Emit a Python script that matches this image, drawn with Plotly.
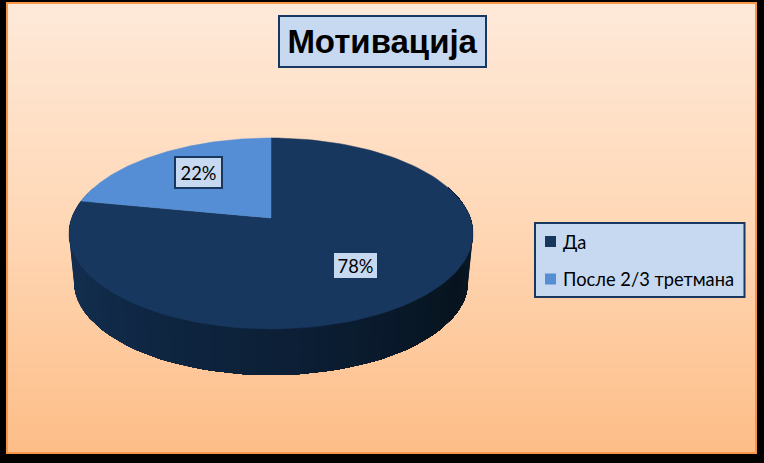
import math
import plotly.graph_objects as go

# ---- data ----
categories = ["Да", "После 2/3 третмана"]
values = [78, 22]
title_text = "Мотивација"

# ---- style ----
W, H = 764, 463
slice_colors = ["#17375E", "#558ED5"]
box_fill = "#C6D9F1"
box_line = "#17375E"
CX, CY = 271, 218          # projected centre of the disc
A, B, P = 199.3, 93.0, 0.1623   # projected radii and perspective
DEPTH, SHRINK = 48.8, 0.975


def project(theta, r=1.0, scale=1.0, drop=0.0):
    d = 1 + P * r * math.cos(theta)
    return (CX + scale * A * r * math.sin(theta) / d,
            CY + drop + scale * B * r * -math.cos(theta) / d)


def lerp_hex(stops, t):
    for (t0, c0), (t1, c1) in zip(stops, stops[1:]):
        if t <= t1:
            f = (t - t0) / (t1 - t0)
            a = [int(c0[i:i + 2], 16) for i in (1, 3, 5)]
            b = [int(c1[i:i + 2], 16) for i in (1, 3, 5)]
            return "#%02x%02x%02x" % tuple(round(u + (v - u) * f) for u, v in zip(a, b))
    return stops[-1][1]


fig = go.Figure()

# side wall of the disc: painted left to right, each layer covering the rest, so no seams show
side_stops = [(0, "#16345A"), (0.25, "#112B4A"), (0.55, "#0B1D33"), (0.75, "#07141F"), (1, "#0B1B2C")]
N = 60
lo, hi = math.radians(70), math.radians(290)
for i in range(N):
    t1 = hi - (hi - lo) * i / N
    arc = [t1 - (t1 - lo) * k / (N - i) for k in range(N - i + 1)]
    pts = [project(t) for t in arc] + [project(t, scale=SHRINK, drop=DEPTH) for t in reversed(arc)]
    col = lerp_hex(side_stops, i / N)
    fig.add_trace(go.Scatter(x=[p[0] for p in pts], y=[p[1] for p in pts], mode="lines", fill="toself",
                             fillcolor=col, line=dict(width=0), showlegend=False, hoverinfo="skip"))

# top face slices, clockwise from 12 o'clock
total = sum(values)
start = 0.0
mids = []
for name, v, col in zip(categories, values, slice_colors):
    sweep = 2 * math.pi * v / total
    thetas = [start + sweep * k / 120 for k in range(121)]
    pts = [project(0, 0)] + [project(t) for t in thetas] + [project(0, 0)]
    fig.add_trace(go.Scatter(x=[p[0] for p in pts], y=[p[1] for p in pts], mode="lines", fill="toself",
                             fillcolor=col, line=dict(color=col, width=0.5), showlegend=False,
                             name=name, hoverinfo="name"))
    mids.append(start + sweep / 2)
    start += sweep

# percentage labels
label_shift = [(0, 0), (0, 5)]
label_size = [(47, 29), (49, 33)]
for v, m, sh, sz in zip(values, mids, label_shift, label_size):
    x, y = project(m, r=0.615)
    fig.add_annotation(x=x, y=y, xref="x", yref="y", text=f"{round(100 * v / total)}%", showarrow=False,
                       xshift=sh[0], yshift=sh[1], width=sz[0] - 4, height=sz[1] - 4,
                       font=dict(family="Lato", size=18.3, color="#000000"),
                       bgcolor=box_fill, bordercolor=box_line, borderwidth=2, borderpad=0)

# title box
fig.add_annotation(x=382, y=41.5, xref="x", yref="y", text=f"<b>{title_text}</b>", showarrow=False,
                   width=205, height=49, font=dict(family="Liberation Sans", size=33, color="#000000"),
                   bgcolor=box_fill, bordercolor=box_line, borderwidth=2, borderpad=0)

# legend box, swatches and texts
legend_rows = [241.5, 279]
fig.add_trace(go.Scatter(x=[550.5] * len(categories), y=legend_rows, mode="markers", showlegend=False, hoverinfo="skip",
                         marker=dict(symbol="square", size=11, color=slice_colors, line=dict(width=0))))
for name, y in zip(categories, legend_rows):
    fig.add_annotation(x=561, y=y, xref="x", yref="y", text=name, showarrow=False, xanchor="left", yanchor="middle",
                       font=dict(family="Lato", size=18.3, color="#000000"))

# panel background gradient
shapes = []
ROWS = 150
top, bottom = 3, 453
grad = [(0, "#FEE9D9"), (0.5, "#FFD7B5"), (1, "#FDBD87")]
for i in range(ROWS):
    y0 = top + (bottom - top) * i / ROWS
    y1 = top + (bottom - top) * (i + 1) / ROWS + 0.5
    shapes.append(dict(type="rect", xref="x", yref="y", x0=7, x1=756, y0=y0, y1=min(y1, bottom), layer="below",
                       fillcolor=lerp_hex(grad, i / ROWS), line=dict(width=0)))
shapes.append(dict(type="rect", xref="x", yref="y", x0=7, x1=756, y0=3, y1=453, layer="below",
                   fillcolor="rgba(0,0,0,0)", line=dict(color="#F79646", width=2)))
shapes.append(dict(type="rect", xref="x", yref="y", x0=535, x1=744.5, y0=223, y1=297, layer="below",
                   fillcolor=box_fill, line=dict(color=box_line, width=2)))

fig.update_layout(
    width=W, height=H, margin=dict(l=0, r=0, t=0, b=0), autosize=False,
    paper_bgcolor="#000000", plot_bgcolor="rgba(0,0,0,0)", shapes=shapes,
    xaxis=dict(range=[0, W], visible=False, fixedrange=True),
    yaxis=dict(range=[H, 0], visible=False, fixedrange=True),
    showlegend=False,
)
fig.write_html("out.html", config=dict(displayModeBar=False),
               post_script="document.body.style.margin='0';document.body.style.background='#000';")
